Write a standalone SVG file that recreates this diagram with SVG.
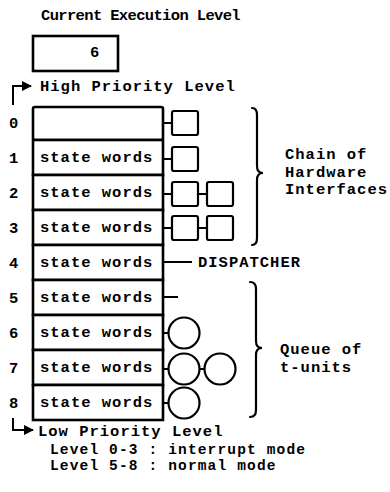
<svg xmlns="http://www.w3.org/2000/svg" width="390" height="492" viewBox="0 0 390 492">
<defs>
<style>
text{font-family:"Liberation Mono","Courier New",monospace;font-weight:bold;fill:#000;font-size:15.5px;letter-spacing:1px}
.t{letter-spacing:-0.65px}
.n{font-size:14.5px;letter-spacing:1.15px}
.row{fill:#fff;stroke:#000;stroke-width:2.6}
.sq{fill:#fff;stroke:#000;stroke-width:2.2}
.ln{fill:none;stroke:#000;stroke-width:2}
.br{fill:none;stroke:#000;stroke-width:2.2;stroke-linecap:round}
</style>
<marker id="ah" viewBox="0 0 10 10" refX="9" refY="5" markerWidth="5" markerHeight="5" orient="auto">
<path d="M0,0 L10,5 L0,10 z" fill="#000"/>
</marker>
</defs>
<rect width="390" height="492" fill="#fff"/>
<g id="title">
<text class="t" x="41" y="20">Current Execution Level</text>
<rect x="33" y="36" width="85" height="35" class="row"/>
<text x="90" y="57">6</text>
</g>
<g id="connectors">
<path class="ln" d="M13,105 L13,86 L31,86" marker-end="url(#ah)"/>
<path class="ln" d="M13,418 L13,430 L33,430" marker-end="url(#ah)"/>
<path class="ln" d="M163,123 H172 M163,159 H172 M163,194 H172 M198,194 H207 M163,228 H172 M198,228 H207"/>
<path class="ln" d="M163,262 H192 M163,297 H178"/>
<path class="ln" d="M163,333 H168.5 M163,369 H168.5 M199.5,369 H204.5 M163,403 H168.5"/>
<path class="br" d="M252,108 Q257,108 257,115 L257,166 Q257,173 263,173 Q257,173 257,180 L257,238 Q257,245 252,245"/>
<path class="br" d="M250,282 Q256,282 256,289 L256,341 Q256,348 262,348 Q256,348 256,355 L256,410 Q256,417 250,417"/>
</g>
<g id="labels">
<text x="40" y="91">High Priority Level</text>
<text x="38" y="436">Low Priority Level</text>
<text x="285" y="159">Chain of</text>
<text x="285" y="176.5">Hardware</text>
<text x="285" y="194">Interfaces</text>
<text x="198" y="267">DISPATCHER</text>
<text x="280" y="354">Queue of</text>
<text x="280" y="372">t-units</text>
<text class="n" x="50" y="454">Level 0-3 : interrupt mode</text>
<text class="n" x="50" y="470">Level 5-8 : normal mode</text>
</g>
<g id="level0"><rect class="row" x="33" y="107" width="130" height="33" rx="2"/><text x="9" y="128">0</text><rect class="sq" x="172" y="111" width="26" height="24" rx="2"/></g>
<g id="level1"><rect class="row" x="33" y="140" width="130" height="35"/><text x="9" y="163">1</text><text x="40" y="162">state words</text><rect class="sq" x="172" y="147" width="26" height="24" rx="2"/></g>
<g id="level2"><rect class="row" x="33" y="175" width="130" height="35"/><text x="9" y="198">2</text><text x="40" y="197">state words</text><rect class="sq" x="172" y="182" width="26" height="24" rx="2"/><rect class="sq" x="207" y="182" width="26" height="24" rx="2"/></g>
<g id="level3"><rect class="row" x="33" y="210" width="130" height="35"/><text x="9" y="233">3</text><text x="40" y="232">state words</text><rect class="sq" x="172" y="216" width="26" height="24" rx="2"/><rect class="sq" x="207" y="216" width="26" height="24" rx="2"/></g>
<g id="level4"><rect class="row" x="33" y="245" width="130" height="35"/><text x="9" y="268">4</text><text x="40" y="267">state words</text></g>
<g id="level5"><rect class="row" x="33" y="280" width="130" height="35"/><text x="9" y="303">5</text><text x="40" y="302">state words</text></g>
<g id="level6"><rect class="row" x="33" y="315" width="130" height="35"/><text x="9" y="338">6</text><text x="40" y="337">state words</text><circle class="sq" cx="184" cy="333" r="15.5"/></g>
<g id="level7"><rect class="row" x="33" y="350" width="130" height="35"/><text x="9" y="373">7</text><text x="40" y="372">state words</text><circle class="sq" cx="184" cy="369" r="15.5"/><circle class="sq" cx="220" cy="369" r="15.5"/></g>
<g id="level8"><rect class="row" x="33" y="385" width="130" height="35"/><text x="9" y="408">8</text><text x="40" y="407">state words</text><circle class="sq" cx="184" cy="403" r="15.5"/></g>
</svg>
